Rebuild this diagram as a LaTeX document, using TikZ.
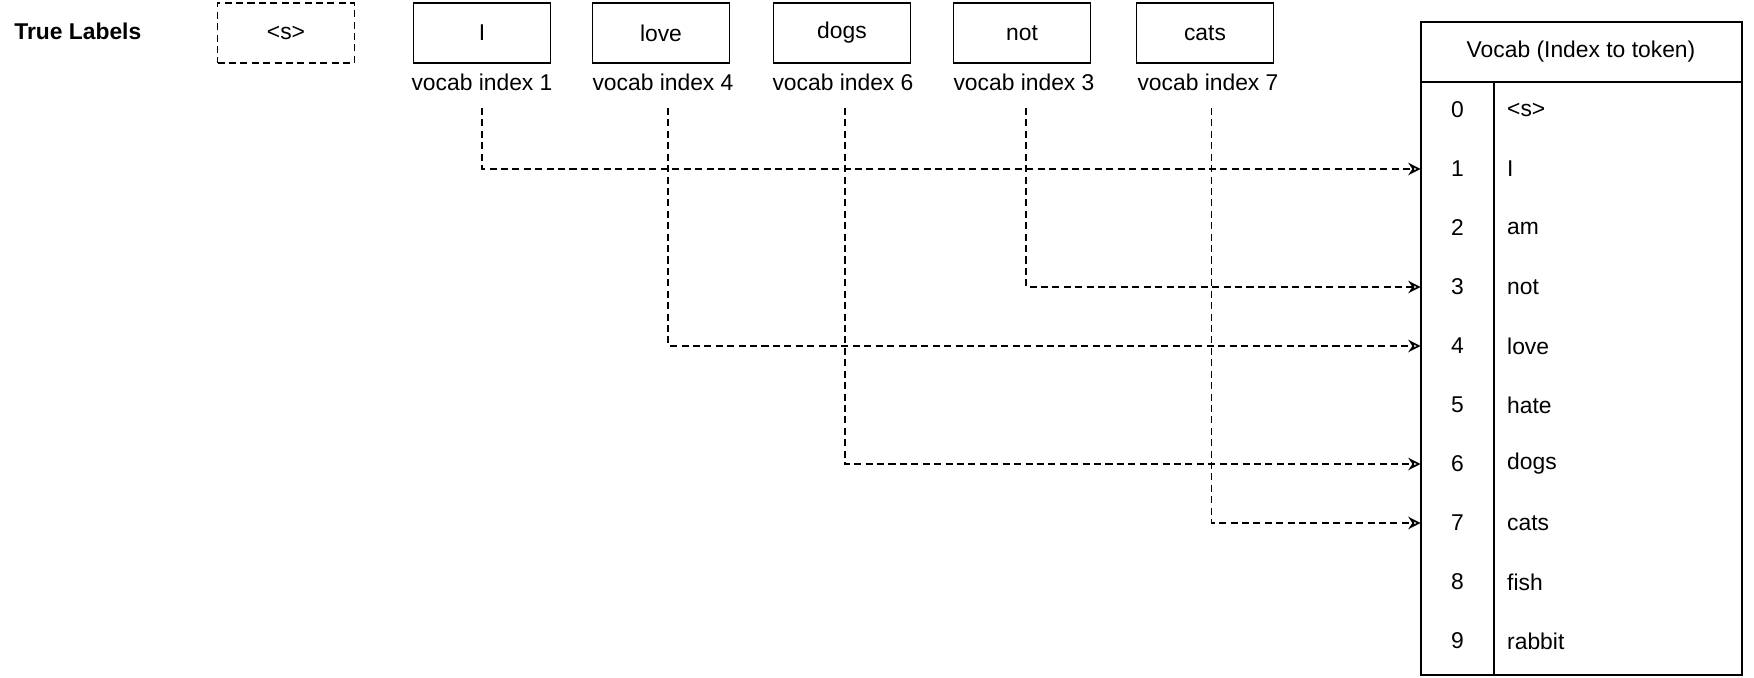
\documentclass[tikz,border=0pt]{standalone}
\usepackage{fontspec}
\setmainfont{Liberation Sans}
\usetikzlibrary{arrows.meta, positioning}

\begin{document}
\begin{tikzpicture}[x=0.02cm, y=-0.02cm,
    every node/.style={font=\fontsize{13}{15}\selectfont},
    tokbox/.style={draw, line width=1.1pt, minimum width=2.74cm, minimum height=1.2cm},
    idxnum/.style={minimum width=1.46cm, minimum height=1.18cm, inner sep=0pt},
    link/.style={-{Stealth[open, length=7pt, width=7pt]}, dashed, line width=1pt,
                 dash pattern=on 4pt off 2.5pt, shorten <=6.5pt}]
    \useasboundingbox (0,0) rectangle (1754,678);

    % True labels row
    \node[anchor=west, inner sep=0pt, font=\fontsize{13}{15}\selectfont\bfseries] (title) at (14,31) {True Labels};
    \node[tokbox, dashed, dash pattern=on 4pt off 2.5pt] (bos) at (286,33) {\textless{}s\textgreater};
    \node[tokbox] (wI) at (482,33) {I};
    \node[tokbox] (wlove) at (661,33) {love};
    \node[tokbox] (wdogs) at (842,33) {dogs};
    \node[tokbox] (wnot) at (1022,33) {not};
    \node[tokbox] (wcats) at (1205,33) {cats};

    % vocab index labels
    \node (lI) at (482,82) {vocab index 1};
    \node (llove) at (663,82) {vocab index 4};
    \node (ldogs) at (843,82) {vocab index 6};
    \node (lnot) at (1024,82) {vocab index 3};
    \node (lcats) at (1208,82) {vocab index 7};

    % Vocab table
    \draw[line width=1.1pt] (1421,22) rectangle (1742,82);
    \node (head) at (1581,52) {Vocab (Index to token)};
    \draw[line width=1.1pt] (1421,82) rectangle (1742,675);
    \draw[line width=0.8pt] (1494,82) -- (1494,675);
    \foreach \w [count=\i from 0] in {\textless{}s\textgreater, I, am, not, love, hate, dogs, cats, fish, rabbit} {
        \node[idxnum] (n\i) at (1457.5, {110+59*\i}) {\i};
        \node[anchor=west] (t\i) at (1501, {110+59*\i}) {\w};
    }

    % Mapping arrows
    \draw[link] (lI.south) |- (n1.west);
    \draw[link] (llove.south) ++(3pt,0) |- (n4.west);
    \draw[link] (ldogs.south) ++(1pt,0) |- (n6.west);
    \draw[link] (lnot.south) ++(1pt,0) |- (n3.west);
    \draw[link] (lcats.south) ++(2pt,0) |- (n7.west);
\end{tikzpicture}
\end{document}
